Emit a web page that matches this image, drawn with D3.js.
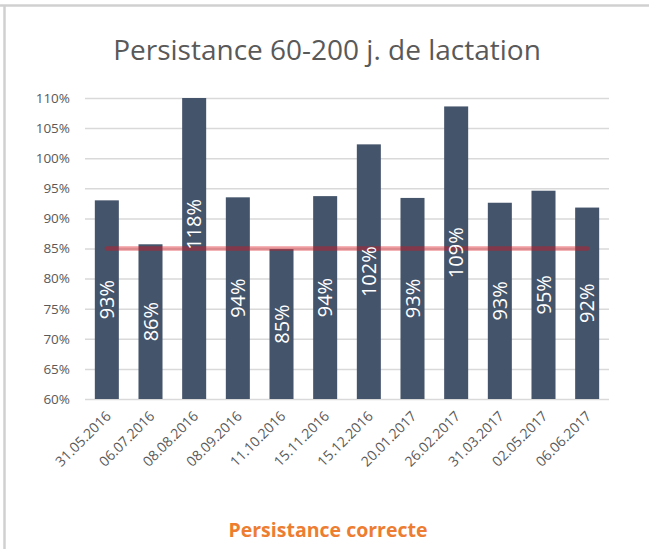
<!DOCTYPE html>
<html>
<head>
<meta charset="utf-8">
<script src="https://cdn.jsdelivr.net/npm/d3@7"></script>
<style>
  body { margin: 0; background: #fff; }
  svg { display: block; font-family: "Open Sans", sans-serif; }
</style>
</head>
<body>
<svg id="chart" width="649" height="549"></svg>
<script>
// data
const dates = ["31.05.2016", "06.07.2016", "08.08.2016", "08.09.2016", "11.10.2016", "15.11.2016",
               "15.12.2016", "20.01.2017", "26.02.2017", "31.03.2017", "02.05.2017", "06.06.2017"];
const persistance = [93.0, 85.7, 118.0, 93.5, 84.9, 93.7, 102.3, 93.4, 108.6, 92.6, 94.6, 91.8];
const seuil = 85;
const yTicks = [60, 65, 70, 75, 80, 85, 90, 95, 100, 105, 110];

const svg = d3.select("#chart");
const W = 649, H = 549;
const margin = {left: 85, right: 40, top: 98, bottom: 150};

// frame
svg.append("line").attr("x1", 0).attr("x2", W).attr("y1", 5.5).attr("y2", 5.5)
    .attr("stroke", "#d0d0d0").attr("stroke-width", 2.5);
svg.append("line").attr("x1", 4.5).attr("x2", 4.5).attr("y1", 5).attr("y2", H)
    .attr("stroke", "#d0d0d0").attr("stroke-width", 2.5);

const x = d3.scaleBand()
    .domain(dates)
    .range([margin.left, W - margin.right])
    .paddingInner(0.45).paddingOuter(0.225);
const y = d3.scaleLinear()
    .domain([60, 110])
    .range([H - margin.bottom, margin.top]);

// title
svg.append("text")
    .attr("x", 327).attr("y", 60)
    .attr("text-anchor", "middle")
    .attr("font-size", 28)
    .attr("fill", "#595959")
    .text("Persistance 60-200 j. de lactation");

// gridlines + y labels
const yAxis = svg.append("g")
    .attr("transform", `translate(${margin.left},0)`)
    .call(d3.axisLeft(y).tickValues(yTicks).tickSize(-(W - margin.left - margin.right))
        .tickFormat(d => d + "%").tickPadding(15));
yAxis.select(".domain").remove();
yAxis.selectAll(".tick line").attr("stroke", "#d9d9d9").attr("stroke-width", 1.5);
yAxis.selectAll(".tick text").attr("font-size", 13.5).attr("fill", "#595959")
    .attr("font-family", "Open Sans");

// bars, clipped to the plot
svg.append("clipPath").attr("id", "plot-clip")
    .append("rect")
    .attr("x", margin.left).attr("y", y(110))
    .attr("width", W - margin.left - margin.right)
    .attr("height", y(60) - y(110));

const rows = dates.map((d, i) => ({date: d, value: persistance[i]}));

svg.append("g").attr("clip-path", "url(#plot-clip)")
    .selectAll("rect").data(rows).enter().append("rect")
    .attr("x", d => x(d.date))
    .attr("width", x.bandwidth())
    .attr("y", d => y(d.value))
    .attr("height", d => y(60) - y(d.value))
    .attr("fill", "#44546a");

// threshold line
svg.append("line")
    .attr("x1", x(dates[0]) + x.bandwidth() / 2)
    .attr("x2", x(dates[dates.length - 1]) + x.bandwidth() / 2)
    .attr("y1", y(seuil)).attr("y2", y(seuil))
    .attr("stroke", "#d8131f").attr("stroke-opacity", 0.42)
    .attr("stroke-width", 4.5).attr("stroke-linecap", "round");

// value labels inside bars
svg.append("g").selectAll("text").data(rows).enter().append("text")
    .attr("transform", d => `translate(${x(d.date) + x.bandwidth() / 2},${y((d.value + 60) / 2)}) rotate(-90)`)
    .attr("text-anchor", "middle")
    .attr("dy", "0.35em")
    .attr("font-size", 20)
    .attr("fill", "#fff")
    .text(d => Math.round(d.value) + "%");

// x labels
svg.append("g").selectAll("text").data(dates).enter().append("text")
    .attr("transform", d => `translate(${x(d) + x.bandwidth() / 2 + 5},${y(60) + 18}) rotate(-45)`)
    .attr("text-anchor", "end")
    .attr("font-size", 14)
    .attr("fill", "#595959")
    .text(d => d);

// footer
svg.append("text")
    .attr("x", 328).attr("y", 537)
    .attr("text-anchor", "middle")
    .attr("font-size", 19.5)
    .attr("font-weight", "bold")
    .attr("fill", "#ed7d31")
    .text("Persistance correcte");
</script>
</body>
</html>
